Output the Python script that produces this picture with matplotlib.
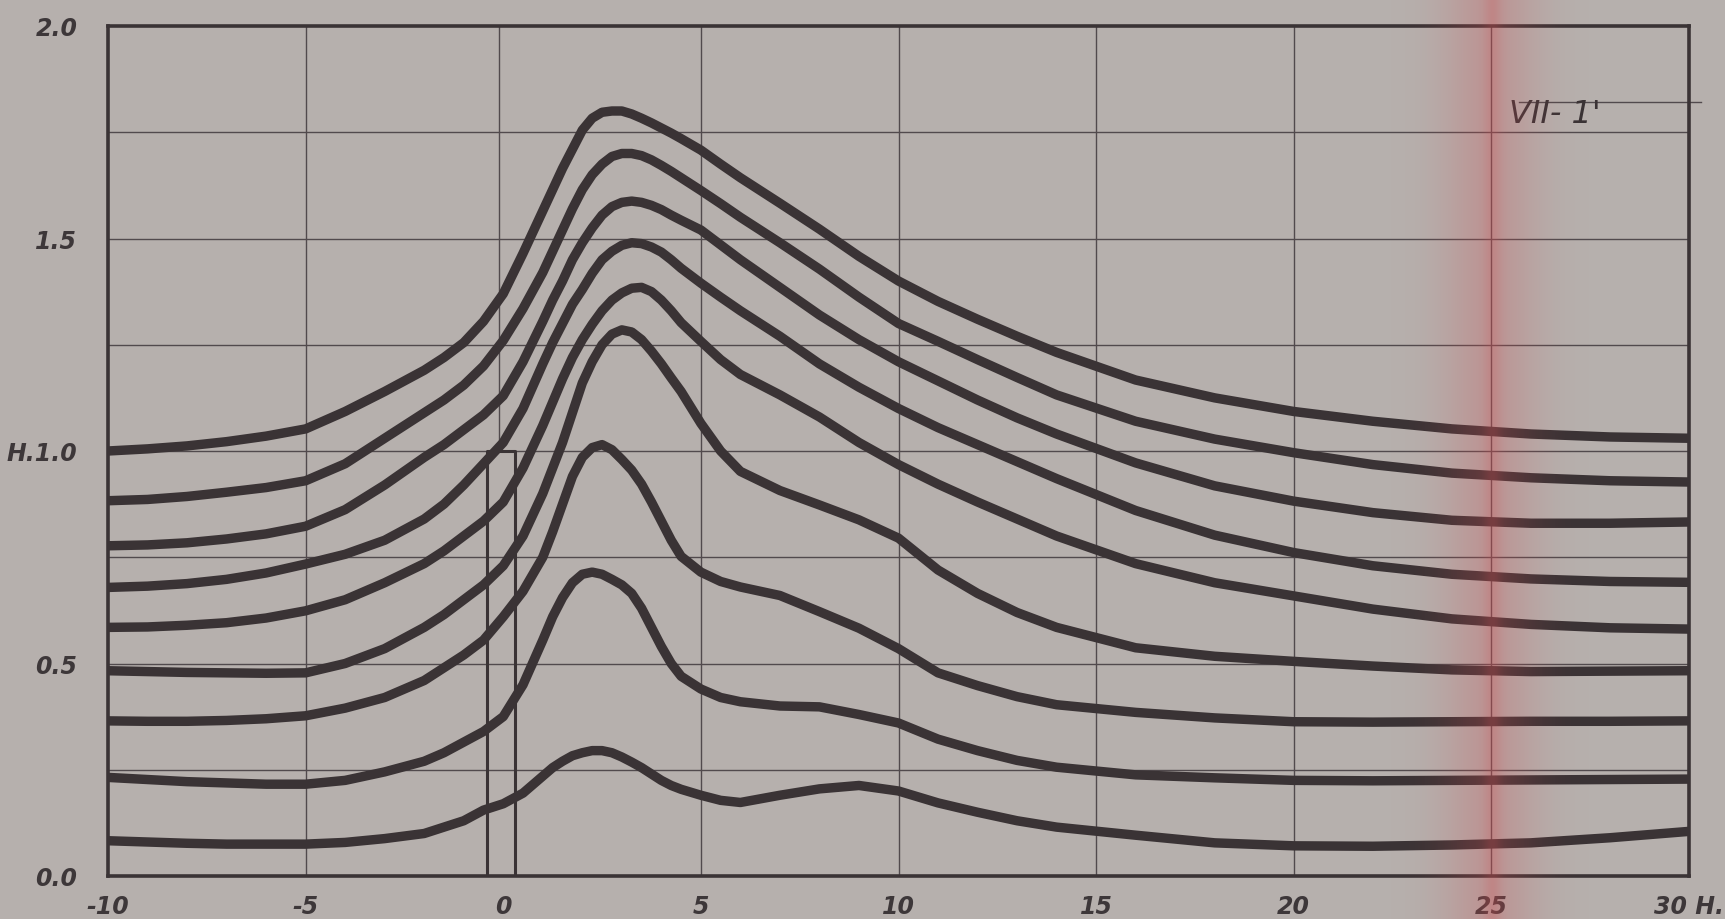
import matplotlib
matplotlib.use("Agg")
import numpy as np
from matplotlib import pyplot as plt

# x positions the curves were read at (denser around the peaks)
x = [-10, -9, -8, -7, -6, -5, -4, -3, -2,
     -1.5, -1, -0.5, 0, 0.5,
     1, 1.25, 1.5, 1.75, 2, 2.25, 2.5, 2.75, 3, 3.25, 3.5, 3.75, 4, 4.25, 4.5,
     5, 5.5, 6,
     7, 8, 9, 10, 11, 12, 13, 14,
     16, 18, 20, 22, 24, 26, 28, 30]

# nine curves, top to bottom
c1 = [1.00, 1.005, 1.012, 1.022, 1.035, 1.052, 1.093, 1.14, 1.19,
      1.22, 1.255, 1.305, 1.37, 1.465,
      1.565, 1.615, 1.665, 1.71, 1.755, 1.783, 1.797, 1.80, 1.80, 1.793, 1.783, 1.772, 1.76, 1.748, 1.735,
      1.708, 1.675, 1.643,
      1.583, 1.522, 1.458, 1.40, 1.352, 1.31, 1.27, 1.232,
      1.167, 1.125, 1.093, 1.07, 1.052, 1.04, 1.033, 1.03]
c2 = [0.883, 0.886, 0.893, 0.903, 0.914, 0.93, 0.97, 1.03, 1.09,
      1.12, 1.155, 1.20, 1.26, 1.335,
      1.42, 1.47, 1.52, 1.57, 1.615, 1.65, 1.675, 1.693, 1.70, 1.70, 1.695, 1.685, 1.672, 1.658, 1.643,
      1.613, 1.582, 1.55,
      1.49, 1.428, 1.362, 1.30, 1.258, 1.215, 1.173, 1.132,
      1.07, 1.028, 0.996, 0.968, 0.948, 0.937, 0.93, 0.927]
c3 = [0.777, 0.779, 0.784, 0.793, 0.805, 0.823, 0.862, 0.92, 0.985,
      1.015, 1.05, 1.085, 1.13, 1.21,
      1.305, 1.355, 1.40, 1.45, 1.49, 1.525, 1.555, 1.575, 1.585, 1.588, 1.585, 1.578, 1.568, 1.555, 1.543,
      1.52, 1.485, 1.45,
      1.385, 1.32, 1.262, 1.21, 1.165, 1.12, 1.078, 1.04,
      0.972, 0.918, 0.882, 0.855, 0.837, 0.83, 0.83, 0.833]
c4 = [0.679, 0.682, 0.688, 0.698, 0.713, 0.734, 0.757, 0.79, 0.84,
      0.875, 0.92, 0.97, 1.02, 1.10,
      1.205, 1.255, 1.30, 1.345, 1.38, 1.418, 1.45, 1.47, 1.484, 1.49, 1.488, 1.48, 1.468, 1.45, 1.43,
      1.395, 1.362, 1.33,
      1.27, 1.205, 1.15, 1.10, 1.055, 1.015, 0.975, 0.935,
      0.86, 0.802, 0.761, 0.73, 0.71, 0.699, 0.693, 0.691]
c5 = [0.585, 0.586, 0.59, 0.596, 0.607, 0.624, 0.65, 0.69, 0.735,
      0.765, 0.80, 0.835, 0.88, 0.96,
      1.06, 1.115, 1.17, 1.22, 1.262, 1.298, 1.33, 1.355, 1.372, 1.383, 1.385, 1.375, 1.355, 1.33, 1.302,
      1.258, 1.215, 1.18,
      1.132, 1.08, 1.02, 0.968, 0.922, 0.88, 0.84, 0.80,
      0.735, 0.69, 0.659, 0.628, 0.605, 0.592, 0.584, 0.581]
c6 = [0.483, 0.481, 0.479, 0.478, 0.477, 0.478, 0.50, 0.535, 0.585,
      0.615, 0.65, 0.685, 0.73, 0.80,
      0.90, 0.96, 1.02, 1.09, 1.16, 1.21, 1.25, 1.275, 1.285, 1.28, 1.262, 1.235, 1.205, 1.172, 1.14,
      1.065, 1.0, 0.952,
      0.907, 0.873, 0.838, 0.795, 0.72, 0.665, 0.62, 0.585,
      0.537, 0.517, 0.505, 0.494, 0.485, 0.481, 0.482, 0.483]
c7 = [0.365, 0.364, 0.364, 0.366, 0.37, 0.377, 0.395, 0.42, 0.46,
      0.49, 0.52, 0.555, 0.61, 0.67,
      0.75, 0.81, 0.875, 0.94, 0.985, 1.008, 1.015, 1.003, 0.98, 0.955, 0.922, 0.88, 0.835, 0.79, 0.752,
      0.715, 0.693, 0.68,
      0.66, 0.622, 0.583, 0.535, 0.478, 0.448, 0.422, 0.403,
      0.385, 0.372, 0.363, 0.362, 0.363, 0.364, 0.364, 0.365]
c8 = [0.232, 0.227, 0.222, 0.219, 0.216, 0.216, 0.225, 0.245, 0.27,
      0.29, 0.315, 0.34, 0.375, 0.45,
      0.555, 0.61, 0.655, 0.69, 0.71, 0.715, 0.71, 0.698, 0.685, 0.665, 0.63, 0.585, 0.54, 0.50, 0.47,
      0.44, 0.42, 0.41,
      0.40, 0.398, 0.38, 0.36, 0.322, 0.295, 0.272, 0.256,
      0.238, 0.231, 0.225, 0.224, 0.225, 0.226, 0.227, 0.228]
c9 = [0.083, 0.08, 0.077, 0.075, 0.075, 0.075, 0.079, 0.088, 0.10,
      0.115, 0.13, 0.155, 0.17, 0.195,
      0.235, 0.255, 0.27, 0.283, 0.29, 0.295, 0.295, 0.29, 0.28, 0.268, 0.255, 0.24, 0.225, 0.213, 0.204,
      0.19, 0.178, 0.173,
      0.19, 0.205, 0.213, 0.20, 0.172, 0.15, 0.13, 0.115,
      0.096, 0.078, 0.071, 0.07, 0.073, 0.078, 0.09, 0.105]
curves = [c1, c2, c3, c4, c5, c6, c7, c8, c9]

# the narrow input pulse drawn around x = 0
pulse_left = -0.4
pulse_right = 0.3
pulse_height = 1.0

xticks = [-10, -5, 0, 5, 10, 15, 20, 25, 30]
xticklabels = ["-10", "-5", "0", "5", "10", "15", "20", "25", "30 H."]
yticks = [0.0, 0.5, 1.0, 1.5, 2.0]
yticklabels = ["0.0", "0.5", "H.1.0", "1.5", "2.0"]
tag = "VII- 1'"

paper = "#b6b0ad"
ink = "#3a3335"
grid_ink = "#514a4d"

fig = plt.figure(figsize=(17.25, 9.2), dpi=100)
fig.patch.set_facecolor(paper)
ax = fig.add_axes([108 / 1725, 43 / 920, 1581 / 1725, 850 / 920])
ax.set_facecolor(paper)
ax.set_xlim(-10, 30)
ax.set_ylim(0, 2)

## grid: verticals every 5, horizontals every 0.25
for gx in range(-5, 30, 5):
    if gx == 0:
        ax.vlines(-0.1, pulse_height, 2, color=grid_ink, lw=1.0, zorder=1)
    else:
        ax.axvline(gx, color=grid_ink, lw=1.0, zorder=1)
for gy in np.arange(0.25, 2.0, 0.25):
    ax.axhline(gy, color=grid_ink, lw=1.0, zorder=1)

# pulse outline
ax.plot([pulse_left, pulse_left, pulse_right, pulse_right],
        [0, pulse_height, pulse_height, 0], color=ink, lw=2.2, zorder=2)

for c in curves:
    ax.plot(x, c, color=ink, lw=6.8, solid_joinstyle="round", solid_capstyle="butt", zorder=3)

for side in ax.spines.values():
    side.set_linewidth(2.6)
    side.set_color(ink)

font = {"family": "DejaVu Sans", "style": "italic", "weight": "bold", "size": 17}
ax.set_xticks(xticks)
ax.set_xticklabels(xticklabels, color="#3d3739", fontdict=font)
ax.set_yticks(yticks)
ax.set_yticklabels(yticklabels, color="#3d3739", fontdict=font)
ax.tick_params(axis="both", length=0)
ax.tick_params(axis="x", pad=13)
ax.tick_params(axis="y", pad=22)

# sheet tag in the upper right corner
ax.text(25.45, 1.758, tag, ha="left", va="bottom", fontsize=23, style="italic", color=ink)
ax.plot([25.7, 30.3], [1.822, 1.822], color=grid_ink, lw=1.0, clip_on=False, zorder=1)

# reddish stain on the scan around x = 25
over = fig.add_axes([0, 0, 1, 1], zorder=20)
over.axis("off")
cols = np.linspace(0, 1, 1725)
wash = 0.26 * np.exp(-((cols - 0.864) / 0.028) ** 2) + 0.16 * np.exp(-((cols - 0.8655) / 0.005) ** 2)
stain = np.zeros((1, 1725, 4))
stain[0, :, 0] = 0.80
stain[0, :, 1] = 0.30
stain[0, :, 2] = 0.32
stain[0, :, 3] = wash
over.imshow(stain, aspect="auto", extent=[0, 1, 0, 1])
over.set_xlim(0, 1)
over.set_ylim(0, 1)

plt.savefig("out.png", dpi=100, facecolor=paper)
